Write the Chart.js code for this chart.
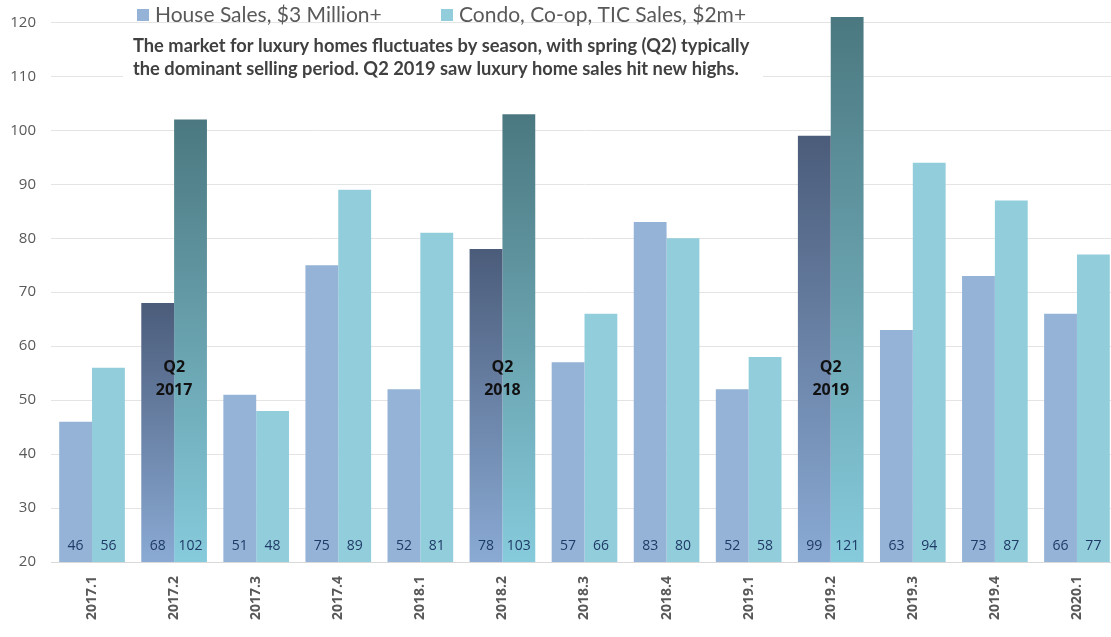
<!DOCTYPE html>
<html>
<head>
<meta charset="utf-8">
<title>Luxury Home Sales by Quarter</title>
<script src="https://cdn.jsdelivr.net/npm/chart.js@4.4.1/dist/chart.umd.min.js"></script>
<style>
  html, body { margin: 0; padding: 0; background: #fff; overflow: hidden; }
  #wrap { width: 1118px; height: 637px; }
</style>
</head>
<body>
<div id="wrap"><canvas id="salesChart" width="1118" height="637"></canvas></div>
<script>
// quarterly luxury sales counts
const quarters = ['2017.1', '2017.2', '2017.3', '2017.4', '2018.1', '2018.2', '2018.3',
                  '2018.4', '2019.1', '2019.2', '2019.3', '2019.4', '2020.1'];
const houseSales = [46, 68, 51, 75, 52, 78, 57, 83, 52, 99, 63, 73, 66];
const condoSales = [56, 102, 48, 89, 81, 103, 66, 80, 58, 121, 94, 87, 77];
const springQuarters = ['2017.2', '2018.2', '2019.2'];
const yTicks = [20, 30, 40, 50, 60, 70, 80, 90, 100, 110, 120];

const seriesNames = ['House Sales, $3 Million+', 'Condo, Co-op, TIC Sales, $2m+'];
const noteLines = [
    'The market for luxury homes fluctuates by season, with spring (Q2) typically',
    'the dominant selling period. Q2 2019 saw luxury home sales hit new highs.'
];

const HOUSE = '#95b3d7';
const CONDO = '#92cddc';
const HOUSE_DARK = ['#4b5c7a', '#8aaad4'];
const CONDO_DARK = ['#4b7880', '#86cbdc'];

// spring bars get a dark-to-light vertical fade
function barFill(base, dark) {
    return (ctx) => {
        const chart = ctx.chart;
        if (ctx.type !== 'data' || !springQuarters.includes(quarters[ctx.dataIndex])) return base;
        const y = chart.scales.y;
        if (!chart.chartArea || !y) return base;
        const top = y.getPixelForValue(ctx.raw);
        const bottom = y.getPixelForValue(y.min);
        const g = chart.ctx.createLinearGradient(0, top, 0, bottom);
        g.addColorStop(0, dark[0]);
        g.addColorStop(1, dark[1]);
        return g;
    };
}

// value labels at the foot of each bar + "Q2 yyyy" tags
const barLabels = {
    id: 'barLabels',
    afterDatasetsDraw(chart) {
        const ctx = chart.ctx;
        const y = chart.scales.y;
        const x = chart.scales.x;
        ctx.save();
        ctx.textAlign = 'center';
        ctx.textBaseline = 'middle';
        ctx.font = '14px "Open Sans"';
        ctx.fillStyle = '#1f3a66';
        chart.data.datasets.forEach((ds, di) => {
            chart.getDatasetMeta(di).data.forEach((bar, i) => {
                ctx.fillText(String(ds.data[i]), bar.x, y.getPixelForValue(y.min) - 16);
            });
        });
        ctx.font = 'bold 16px "Open Sans"';
        ctx.fillStyle = '#111';
        springQuarters.forEach(q => {
            const cx = x.getPixelForValue(quarters.indexOf(q));
            const parts = q.split('.');
            ctx.fillText('Q' + parts[1], cx, 367);
            ctx.fillText(parts[0], cx, 390);
        });
        ctx.restore();
    }
};

// legend row and note box sit over the top of the plot
const header = {
    id: 'header',
    afterDraw(chart) {
        const ctx = chart.ctx;
        ctx.save();
        ctx.fillStyle = '#fff';
        ctx.fillRect(123, 30, 640, 52);

        ctx.textBaseline = 'alphabetic';
        ctx.textAlign = 'left';
        ctx.font = '21px Lato';
        const keys = [[137, HOUSE], [441, CONDO]];
        keys.forEach(([kx, col], i) => {
            ctx.fillStyle = col;
            ctx.fillRect(kx, 9, 12, 12);
            ctx.fillStyle = '#595959';
            ctx.fillText(seriesNames[i], kx + 18, 22);
        });

        ctx.font = 'bold 18.3px Lato';
        ctx.fillStyle = '#404040';
        ctx.fillText(noteLines[0], 133, 52, 620);
        ctx.fillText(noteLines[1], 133, 75, 620);
        ctx.restore();
    }
};

new Chart(document.getElementById('salesChart'), {
    type: 'bar',
    data: {
        labels: quarters,
        datasets: [
            { label: seriesNames[0], data: houseSales, backgroundColor: barFill(HOUSE, HOUSE_DARK) },
            { label: seriesNames[1], data: condoSales, backgroundColor: barFill(CONDO, CONDO_DARK) }
        ]
    },
    options: {
        responsive: false,
        animation: false,
        layout: { padding: { top: 17, left: 0, right: 0, bottom: 0 } },
        datasets: { bar: { categoryPercentage: 0.8, barPercentage: 1.0, borderWidth: 0 } },
        plugins: {
            legend: { display: false },
            tooltip: { enabled: false }
        },
        scales: {
            x: {
                grid: { display: false },
                border: { display: true, color: '#d9d9d9', width: 1 },
                ticks: {
                    color: '#595959',
                    font: { family: 'Open Sans', size: 14, weight: 'bold' },
                    minRotation: 90,
                    maxRotation: 90,
                    padding: 6
                },
                afterFit(scale) { scale.height = 75; }
            },
            y: {
                min: 20,
                max: 121,
                afterBuildTicks(scale) { scale.ticks = yTicks.map(v => ({ value: v })); },
                grid: { color: '#e4e4e4', drawTicks: false },
                border: { display: false },
                ticks: {
                    color: '#595959',
                    font: { family: 'Open Sans', size: 15 },
                    padding: 15
                },
                afterFit(scale) {
                    scale.width = 51;
                    // tick padding would otherwise push the plot top down
                    scale.paddingTop = 0;
                    scale.paddingBottom = 0;
                }
            }
        }
    },
    plugins: [barLabels, header]
});
</script>
</body>
</html>
